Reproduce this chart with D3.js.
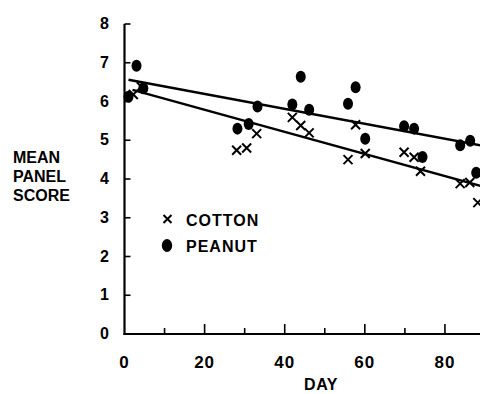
<!DOCTYPE html>
<html>
<head>
<meta charset="utf-8">
<script src="https://cdn.jsdelivr.net/npm/d3@7"></script>
<style>
  html, body { margin: 0; padding: 0; background: #fff; }
  svg { display: block; }
  text { font-family: "Liberation Sans", Arial, sans-serif; font-weight: bold; fill: #000; }
</style>
</head>
<body>
<svg id="chart" width="480" height="394"></svg>
<script>
// ---- data ----
const peanutDays   = [1, 3, 4.7, 28.2, 31, 33.2, 41.9, 44, 46.1, 55.8, 57.7, 60.1, 69.8, 72.3, 74.4, 83.8, 86.3, 87.8];
const peanutScores = [6.12, 6.92, 6.34, 5.30, 5.42, 5.87, 5.92, 6.64, 5.79, 5.94, 6.37, 5.04, 5.36, 5.30, 4.57, 4.87, 4.99, 4.16];
const cottonDays   = [2.2, 4.2, 28, 30.5, 33, 41.9, 44, 46.1, 55.8, 57.7, 60.1, 69.8, 72.3, 73.9, 83.8, 86.2, 88.2];
const cottonScores = [6.18, 6.38, 4.74, 4.80, 5.17, 5.59, 5.38, 5.19, 4.50, 5.40, 4.66, 4.69, 4.56, 4.20, 3.88, 3.91, 3.39];
const peanutFitDays = [1, 92];
const peanutFit     = [6.56, 4.81];
const cottonFitDays = [2, 92];
const cottonFit     = [6.30, 3.73];
const xTicks = [0, 10, 20, 30, 40, 50, 60, 70, 80, 90];
const xTickLabels = ["0", "", "20", "", "40", "", "60", "", "80", ""];
const yTicks = [0, 1, 2, 3, 4, 5, 6, 7, 8];
const yTickLabels = ["0", "1", "2", "3", "4", "5", "6", "7", "8"];
const legendLabels = ["COTTON", "PEANUT"];
const yTitleLines = ["MEAN", "PANEL", "SCORE"];
const xTitle = "DAY";

// ---- scales ----
const svg = d3.select("#chart");
const x = d3.scaleLinear().domain([0, 90]).range([124.5, 485]);
const y = d3.scaleLinear().domain([0, 8]).range([334, 24]);

// ---- axes ----
const yAxis = svg.append("g");
yAxis.append("line")
  .attr("x1", x(0)).attr("x2", x(0))
  .attr("y1", y(0) + 1).attr("y2", y(8))
  .attr("stroke", "#000").attr("stroke-width", 2.2);
yAxis.selectAll("line.tick").data(yTicks).join("line")
  .attr("class", "tick")
  .attr("x1", x(0)).attr("x2", x(0) + 6)
  .attr("y1", d => y(d)).attr("y2", d => y(d))
  .attr("stroke", "#000").attr("stroke-width", 1.6);
yAxis.selectAll("text").data(yTicks).join("text")
  .attr("x", 109).attr("y", d => y(d) + 5)
  .attr("text-anchor", "end")
  .attr("font-size", 16)
  .text((d, i) => yTickLabels[i]);

const xAxis = svg.append("g");
xAxis.append("line")
  .attr("x1", x(0) - 1).attr("x2", 480)
  .attr("y1", y(0)).attr("y2", y(0))
  .attr("stroke", "#000").attr("stroke-width", 2);
xAxis.selectAll("line.tick").data(xTicks.filter(d => d > 0)).join("line")
  .attr("class", "tick")
  .attr("x1", d => x(d)).attr("x2", d => x(d))
  .attr("y1", y(0)).attr("y2", d => y(0) - (d % 20 === 0 ? 10 : 6))
  .attr("stroke", "#000").attr("stroke-width", 1.6);
xAxis.selectAll("text").data(xTicks).join("text")
  .attr("x", d => x(d)).attr("y", 368)
  .attr("text-anchor", "middle")
  .attr("font-size", 17)
  .attr("letter-spacing", 1)
  .text((d, i) => xTickLabels[i]);

svg.append("text")
  .attr("x", 321).attr("y", 390)
  .attr("text-anchor", "middle")
  .attr("font-size", 16)
  .attr("letter-spacing", 0.5)
  .text(xTitle);

svg.selectAll("text.ytitle").data(yTitleLines).join("text")
  .attr("class", "ytitle")
  .attr("x", 13).attr("y", (d, i) => 163 + i * 19)
  .attr("font-size", 16)
  .text(d => d);

// ---- regression lines ----
const line = d3.line().x(d => x(d[0])).y(d => y(d[1]));
svg.append("path")
  .datum(peanutFitDays.map((d, i) => [d, peanutFit[i]]))
  .attr("d", line).attr("fill", "none").attr("stroke", "#000").attr("stroke-width", 2.4);
svg.append("path")
  .datum(cottonFitDays.map((d, i) => [d, cottonFit[i]]))
  .attr("d", line).attr("fill", "none").attr("stroke", "#000").attr("stroke-width", 2.4);

// ---- markers ----
function drawX(g, cx, cy, s) {
  g.append("path")
    .attr("d", `M${cx - s},${cy - s}L${cx + s},${cy + s}M${cx - s},${cy + s}L${cx + s},${cy - s}`)
    .attr("stroke", "#000").attr("stroke-width", 2).attr("fill", "none");
}
const cottonG = svg.append("g");
cottonDays.forEach((d, i) => drawX(cottonG, x(d), y(cottonScores[i]), 4.5));

svg.append("g").selectAll("ellipse")
  .data(peanutDays.map((d, i) => [d, peanutScores[i]]))
  .join("ellipse")
  .attr("cx", d => x(d[0])).attr("cy", d => y(d[1]))
  .attr("rx", 5).attr("ry", 6)
  .attr("fill", "#000");

// ---- legend ----
const legend = svg.append("g");
drawX(legend, 167.5, 219, 4);
legend.append("ellipse").attr("cx", 167).attr("cy", 245.5).attr("rx", 5.2).attr("ry", 6.5).attr("fill", "#000");
legend.selectAll("text").data(legendLabels).join("text")
  .attr("x", 186).attr("y", (d, i) => 226 + i * 26)
  .attr("font-size", 16)
  .attr("letter-spacing", 1)
  .text(d => d);
</script>
</body>
</html>
